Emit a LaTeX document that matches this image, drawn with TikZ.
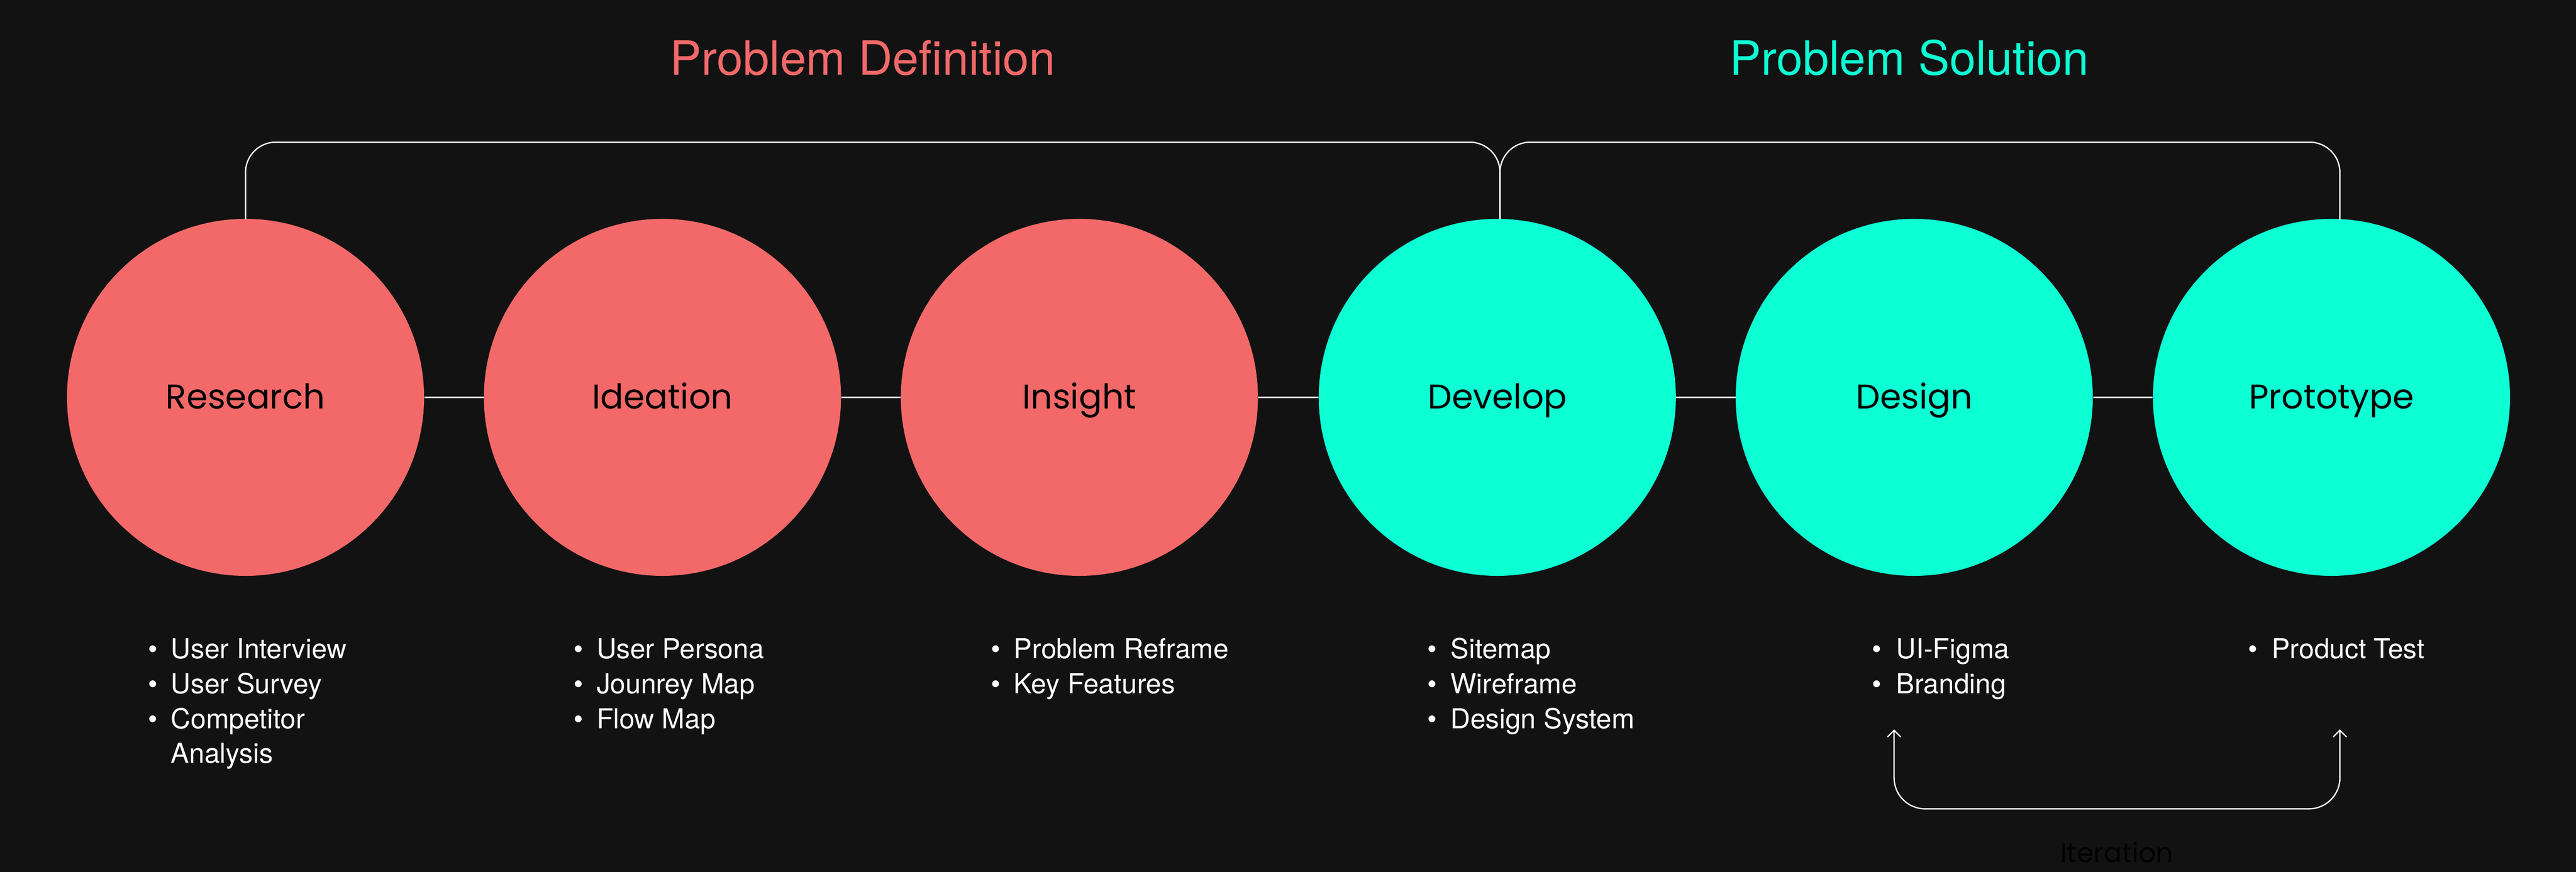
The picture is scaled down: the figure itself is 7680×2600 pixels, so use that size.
\documentclass[tikz,border=0pt]{standalone}
\usepackage{fontspec}
\setmainfont{TeX Gyre Heros}
\newfontfamily\popfont{Poppins}
\usetikzlibrary{arrows.meta,calc}
\definecolor{bg}{HTML}{121212}
\definecolor{coral}{HTML}{F36969}
\definecolor{aqua}{HTML}{0DFFD4}
\definecolor{itercol}{HTML}{030303}
\newcommand{\bitem}[5]{%
  \node[itemtxt] (#1b) at (#2,#4) {•};
  \node[itemtxt] (#1) at (#3,#4) {#5};}
\begin{document}
\begin{tikzpicture}[x=0.01cm,y=-0.01cm,
  stage/.style={circle,inner sep=0pt,minimum size=10.64cm},
  stagelabel/.style={font=\popfont\fontsize{29}{29}\selectfont,text=black,anchor=base,inner sep=0pt},
  itemtxt/.style={font=\fontsize{23.3}{28}\selectfont,text=white,anchor=base west,inner sep=0pt},
  titletxt/.style={font=\fontsize{40}{40}\selectfont,anchor=base,inner sep=0pt},
  wire/.style={draw=white,line width=1.1pt},
  bracket/.style={wire,rounded corners=0.9cm}]
\fill[bg] (0,0) rectangle (7680,2600);
\useasboundingbox (0,0) rectangle (7680,2600);

% titles
\node[titletxt,text=coral] (tdef) at (2572,224) {Problem Definition};
\node[titletxt,text=aqua] (tsol) at (5692,224) {Problem Solution};

% stages
\node[stage,fill=coral] (s1) at (732,1185) {};
\node[stage,fill=coral] (s2) at (1975,1185) {};
\node[stage,fill=coral] (s3) at (3218,1185) {};
\node[stage,fill=aqua]  (s4) at (4464,1185) {};
\node[stage,fill=aqua]  (s5) at (5707,1185) {};
\node[stage,fill=aqua]  (s6) at (6951,1185) {};

\node[stagelabel] (l1) at (732,1219) {Research};
\node[stagelabel] (l2) at (1975,1219) {Ideation};
\node[stagelabel] (l3) at (3218,1219) {Insight};
\node[stagelabel] (l4) at (4464,1219) {Develop};
\node[stagelabel] (l5) at (5707,1219) {Design};
\node[stagelabel] (l6) at (6951,1219) {Prototype};

% connectors between stages
\draw[wire] (s1) -- (s2);
\draw[wire] (s2) -- (s3);
\draw[wire] (s3) -- (s4);
\draw[wire] (s4) -- (s5);
\draw[wire] (s5) -- (s6);

% brackets
\coordinate (b1) at ($(s1.north)+(0,2)$);
\coordinate (b4) at ($(s4.north)+(8,2)$);
\coordinate (b6) at ($(s6.north)+(25,4)$);
\draw[bracket] (b1) -- (b1|-0,424) -- (b4|-0,424) -- (b4);
\draw[bracket] (b4) -- (b4|-0,424) -- (b6|-0,424) -- (b6);

% lists
\bitem{a1}{441}{509}{1964}{User Interview}
\bitem{a2}{441}{509}{2068}{User Survey}
\bitem{a3}{441}{509}{2172}{Competitor}
\node[itemtxt] (a4) at (509,2276) {Analysis};

\bitem{c1}{1709}{1778}{1964}{User Persona}
\bitem{c2}{1709}{1778}{2068}{Jounrey Map}
\bitem{c3}{1709}{1778}{2172}{Flow Map}

\bitem{d1}{2953}{3022}{1964}{Problem Reframe}
\bitem{d2}{2953}{3022}{2068}{Key Features}

\bitem{e1}{4254}{4324}{1964}{Sitemap}
\bitem{e2}{4254}{4324}{2068}{Wireframe}
\bitem{e3}{4254}{4324}{2172}{Design System}

\bitem{f1}{5580}{5653}{1964}{UI-Figma}
\bitem{f2}{5580}{5653}{2068}{Branding}

\bitem{g1}{6701}{6772}{1964}{Product Test}

% iteration loop
\coordinate (itL) at (5647,2175);
\coordinate (itR) at (6976,2175);
\draw[wire,rounded corners=0.92cm,{Straight Barb[length=0.2cm,width=0.4cm]}-{Straight Barb[length=0.2cm,width=0.4cm]}]
  (itL) -- (itL|-0,2412) -- (itR|-0,2412) -- (itR);
\node[font=\popfont\fontsize{23}{23}\selectfont,text=itercol,anchor=base,inner sep=0pt] (iter) at (6311,2572) {Iteration};
\end{tikzpicture}
\end{document}
